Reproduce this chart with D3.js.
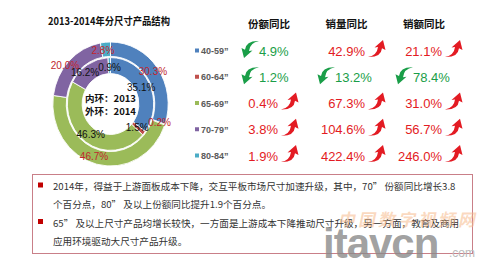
<!DOCTYPE html>
<html>
<head>
<meta charset="utf-8">
<script src="https://cdn.jsdelivr.net/npm/d3@7"></script>
<style>
  html, body { margin: 0; padding: 0; background: #fff; }
  svg { display: block; }
</style>
</head>
<body>
<div id="chart"></div>
<script>
// Screen sizes
const categories = ['40-59”', '60-64”', '65-69”', '70-79”', '80-84”'];
// Market share by size band (%)
const share2013 = [35.1, 1.5, 46.3, 16.2, 0.9];   // inner ring
const share2014 = [30.3, 0.2, 46.7, 20.0, 2.8];   // outer ring
// Year-on-year change (%), sign gives the direction
const shareYoY = [-4.9, -1.2, 0.4, 3.8, 1.9];
const volumeYoY = [42.9, -13.2, 67.3, 104.6, 422.4];
const revenueYoY = [21.1, -78.4, 31.0, 56.7, 246.0];
const columnTitles = ['份额同比', '销量同比', '销额同比'];
const chartTitle = '2013-2014年分尺寸产品结构';
const notes = [
  ['2014年，得益于上游面板成本下降，交互平板市场尺寸加速升级，其中，70” 份额同比增长3.8',
   '个百分点，80” 及以上份额同比提升1.9个百分点。'],
  ['65” 及以上尺寸产品均增长较快，一方面是上游成本下降推动尺寸升级，另一方面，教育及商用',
   '应用环境驱动大尺寸产品升级。']
];

const palette = ['#4F81BD', '#C0504D', '#9BBB59', '#8064A2', '#4BACC6'];
const W = 500, H = 265;
const CJK = '"Noto Sans CJK SC", "Noto Sans", sans-serif';
const LAT = '"Liberation Sans", Arial, sans-serif';

const svg = d3.select('#chart').append('svg').attr('width', W).attr('height', H);

// ---------- title ----------
svg.append('text')
  .attr('x', 48).attr('y', 25)
  .attr('textLength', 122).attr('lengthAdjust', 'spacingAndGlyphs')
  .style('font-family', CJK).style('font-weight', 'bold').style('font-size', '10.5px')
  .attr('fill', '#111')
  .text(chartTitle);

// ---------- double donut ----------
const cx = 110.5, cy = 104, sx = 0.93;
const pie = d3.pie().sort(null).value(d => d);
const outerArc = d3.arc().innerRadius(47.6).outerRadius(62);
const innerArc = d3.arc().innerRadius(30.5).outerRadius(46.4);

const ring = svg.append('g').attr('transform', `translate(${cx},${cy}) scale(${sx},1)`);
ring.selectAll('path.outer').data(pie(share2014)).join('path')
  .attr('class', 'outer')
  .attr('d', outerArc)
  .attr('fill', (d, i) => palette[i])
  .attr('stroke', '#fff').attr('stroke-width', 0.9);
ring.selectAll('path.inner').data(pie(share2013)).join('path')
  .attr('class', 'inner')
  .attr('d', innerArc)
  .attr('fill', (d, i) => palette[i])
  .attr('stroke', '#fff').attr('stroke-width', 0.9);

// slice labels sit on each arc's centroid, a few nudged clear of their neighbours
const outerLab = d3.arc().innerRadius(56).outerRadius(56);
const innerLab = d3.arc().innerRadius(37).outerRadius(37);
const outerNudge = { 2: [-4, -2], 3: [-8, 0], 4: [-3, 2] };
const innerNudge = { 3: [-7, 0] };
function labels(data, arc, nudge, color, cls) {
  svg.selectAll('text.' + cls).data(pie(data)).join('text')
    .attr('class', cls)
    .attr('x', (d, i) => cx + sx * arc.centroid(d)[0] + (nudge[i] ? nudge[i][0] : 0))
    .attr('y', (d, i) => cy + arc.centroid(d)[1] + (nudge[i] ? nudge[i][1] : 0))
    .attr('dy', '0.35em')
    .attr('text-anchor', 'middle')
    .style('font-family', LAT).style('font-size', '10px')
    .attr('fill', color)
    .text(d => d.data.toFixed(1) + '%');
}
labels(share2014, outerLab, outerNudge, '#c0262d', 'olab');
labels(share2013, innerLab, innerNudge, '#111', 'ilab');

const centre = svg.append('g').style('font-family', CJK).style('font-weight', 'bold')
  .style('font-size', '9.5px').attr('fill', '#111').attr('text-anchor', 'middle');
centre.append('text').attr('x', cx).attr('y', 102).text('内环：2013');
centre.append('text').attr('x', cx).attr('y', 115).text('外环：2014');

// ---------- year-on-year table ----------
const rowY = d3.scalePoint().domain(categories).range([51, 156]);
const colX = d3.scalePoint().domain(columnTitles).range([269, 424]);

svg.selectAll('text.head').data(columnTitles).join('text')
  .attr('class', 'head')
  .attr('x', d => colX(d)).attr('y', 28)
  .attr('text-anchor', 'middle')
  .style('font-family', CJK).style('font-weight', 'bold').style('font-size', '10.5px')
  .attr('fill', '#111')
  .text(d => d);

const legend = svg.append('g');
legend.selectAll('rect').data(categories).join('rect')
  .attr('x', 195).attr('y', d => rowY(d) - 2.5)
  .attr('width', 4).attr('height', 4)
  .attr('fill', (d, i) => palette[i]);
legend.selectAll('text').data(categories).join('text')
  .attr('x', 201).attr('y', d => rowY(d))
  .attr('dy', '0.35em')
  .style('font-family', LAT).style('font-weight', 'bold').style('font-size', '9px')
  .attr('fill', '#5a5a5a')
  .text(d => d);

// curved arrows: rising (red, head up-right) and falling (green, head down-left)
const arrowUp = 'M0,17 Q9,15.5 10,7 L6.5,7.5 L15,0 L17.5,10 L14,8.2 Q13,17.5 0,17 Z';
const arrowDown = 'M18,1 Q9,2.5 8,11 L11.5,10.5 L3,18 L0.5,8 L4,9.8 Q5,0.5 18,1 Z';
const RED = '#e31b23', GREEN = '#1a9e48';

// column anchor points: red text ends at `redEnd`, green arrow starts at `greenStart`
const colAnchors = [
  { redEnd: 278, greenStart: 243 },
  { redEnd: 365, greenStart: 319 },
  { redEnd: 442, greenStart: 397 }
];
const table = [shareYoY, volumeYoY, revenueYoY];
table.forEach((vals, c) => {
  const a = colAnchors[c];
  const cell = svg.append('g').selectAll('g').data(vals).join('g')
    .attr('transform', (d, i) => `translate(0,${rowY(categories[i])})`);
  cell.append('text')
    .attr('x', d => d >= 0 ? a.redEnd : a.greenStart + 16)
    .attr('dy', '0.36em')
    .attr('text-anchor', d => d >= 0 ? 'end' : 'start')
    .style('font-family', LAT).style('font-size', '13px')
    .attr('fill', d => d >= 0 ? RED : GREEN)
    .text(d => Math.abs(d).toFixed(1) + '%');
  cell.append('path')
    .attr('d', d => d >= 0 ? arrowUp : arrowDown)
    .attr('transform', d => d >= 0 ? `translate(${a.redEnd + 3},-11)` : `translate(${a.greenStart - 2},-11)`)
    .attr('fill', d => d >= 0 ? RED : GREEN);
});

// ---------- commentary box ----------
svg.append('rect')
  .attr('x', 32.5).attr('y', 174.5).attr('width', 440).attr('height', 79)
  .attr('fill', 'none').attr('stroke', '#c97f88').attr('stroke-width', 1);

const lineY = [190, 208, 226.5, 244.5];
notes.forEach((para, p) => {
  svg.append('rect')
    .attr('x', 38).attr('y', lineY[p * 2] - 7.5)
    .attr('width', 5).attr('height', 5)
    .attr('fill', '#c00000');
  para.forEach((line, k) => {
    svg.append('text')
      .attr('x', 53).attr('y', lineY[p * 2 + k])
      .style('font-family', CJK).style('font-size', '9.6px')
      .attr('fill', '#333')
      .text(line);
  });
});

// ---------- site mark ----------
const mark = svg.append('g').style('pointer-events', 'none');
mark.append('text')
  .attr('transform', 'translate(338,226) skewX(-12)')
  .style('font-family', CJK).style('font-weight', 'bold').style('font-size', '17px')
  .style('letter-spacing', '3px')
  .attr('fill', '#f6b98a').attr('fill-opacity', 0.55)
  .text('中国数字视频网');
mark.append('text')
  .attr('x', 323).attr('y', 258)
  .style('font-family', LAT).style('font-weight', 'bold').style('font-size', '42px')
  .style('letter-spacing', '-1px')
  .attr('fill', '#888').attr('fill-opacity', 0.8)
  .text('itavcn');
mark.append('text')
  .attr('x', 449).attr('y', 257)
  .style('font-family', LAT).style('font-size', '12px')
  .attr('fill', '#bbb')
  .text('.com');
</script>
</body>
</html>
